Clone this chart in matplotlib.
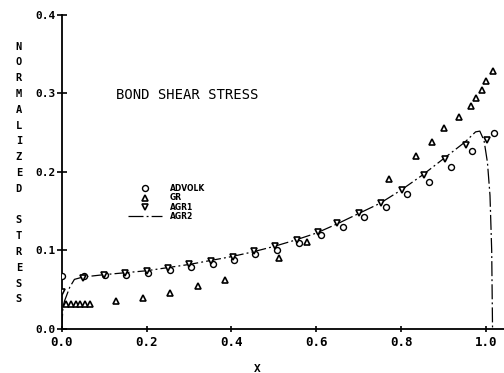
import matplotlib
matplotlib.use("Agg")
import matplotlib.pyplot as plt

# ---- data ----
advolk_x = [0.0, 0.053, 0.103, 0.152, 0.204, 0.255, 0.305, 0.356, 0.405, 0.456, 0.508,
            0.558, 0.610, 0.662, 0.713, 0.763, 0.814, 0.865, 0.916, 0.966, 1.018]
advolk_y = [0.067, 0.067, 0.068, 0.069, 0.0715, 0.075, 0.079, 0.083, 0.088, 0.095, 0.101,
            0.110, 0.120, 0.130, 0.142, 0.155, 0.172, 0.187, 0.206, 0.227, 0.250]

gr_x = [0.011, 0.022, 0.033, 0.044, 0.055, 0.066, 0.127, 0.192, 0.256, 0.321, 0.384,
        0.512, 0.578, 0.770, 0.834, 0.872, 0.900, 0.937, 0.964, 0.976, 0.989, 1.000, 1.015]
gr_y = [0.031, 0.031, 0.031, 0.031, 0.031, 0.031, 0.035, 0.039, 0.046, 0.054, 0.0625,
        0.0905, 0.111, 0.191, 0.220, 0.2375, 0.2555, 0.2695, 0.2845, 0.2945, 0.304, 0.3155, 0.328]

agr1_x = [0.0, 0.05, 0.10, 0.15, 0.20, 0.25, 0.30, 0.352, 0.403, 0.453, 0.503, 0.555,
          0.603, 0.648, 0.701, 0.752, 0.802, 0.853, 0.903, 0.952, 1.003]
agr1_y = [0.047, 0.065, 0.069, 0.0715, 0.074, 0.078, 0.082, 0.086, 0.0915, 0.099, 0.1055,
          0.1137, 0.124, 0.135, 0.147, 0.160, 0.1766, 0.196, 0.217, 0.234, 0.2405]

agr2_x = [0.0, 0.003, 0.007, 0.019, 0.030, 0.05, 0.10, 0.15, 0.20, 0.25, 0.30, 0.35,
          0.40, 0.45, 0.50, 0.55, 0.60, 0.65, 0.70, 0.75, 0.80, 0.85, 0.90, 0.95,
          0.975, 0.985, 0.995, 1.003, 1.009, 1.013, 1.015]
agr2_y = [0.0, 0.028, 0.036, 0.053, 0.063, 0.066, 0.069, 0.0715, 0.074, 0.078, 0.082, 0.087,
          0.092, 0.098, 0.105, 0.113, 0.122, 0.134, 0.147, 0.160, 0.177, 0.196, 0.217, 0.238,
          0.251, 0.252, 0.240, 0.212, 0.170, 0.100, 0.0]

x_ticks = [0.0, 0.2, 0.4, 0.6, 0.8, 1.0]
x_ticklabels = ["0.0", "0.2", "0.4", "0.6", "0.8", "1.0"]
y_ticks = [0.0, 0.1, 0.2, 0.3, 0.4]
y_ticklabels = ["0.0", "0.1", "0.2", "0.3", "0.4"]

title_text = "BOND SHEAR STRESS"
x_label = "X"
y_label = "NORMALIZED STRESS"

mono = "DejaVu Sans Mono"

fig = plt.figure(figsize=(5.04, 3.73), dpi=100)
ax = fig.add_axes([0.1224, 0.1185, 0.8776, 0.8413])

ms = 4.3
ax.plot(advolk_x, advolk_y, linestyle="none", marker="o", ms=ms, mfc="white",
        mec="black", mew=1.0, label="ADVOLK", zorder=3)
ax.plot(gr_x, gr_y, linestyle="none", marker="^", ms=ms, mfc="white",
        mec="black", mew=1.2, label="GR", zorder=3)
ax.plot(agr1_x, agr1_y, linestyle="none", marker="v", ms=ms, mfc="white",
        mec="black", mew=1.2, label="AGR1", zorder=3)
ax.plot(agr2_x, agr2_y, color="black", lw=0.9, linestyle=(0, (12, 2.5, 1.5, 2.5)),
        label="AGR2", zorder=2)

ax.set_xlim(0, 1.042)
ax.set_ylim(0, 0.4)

for s in ["top", "right"]:
    ax.spines[s].set_visible(False)
ax.spines["left"].set_linewidth(1.3)
ax.spines["bottom"].set_linewidth(1.3)

ax.set_xticks(x_ticks)
ax.set_xticklabels(x_ticklabels, fontfamily=mono, fontweight="bold", fontsize=9)
ax.set_yticks(y_ticks)
ax.set_yticklabels(y_ticklabels, fontfamily=mono, fontweight="bold", fontsize=8)
ax.tick_params(axis="y", direction="inout", length=7.2, width=1.2, pad=1)
ax.tick_params(axis="x", direction="inout", length=4.3, width=1.2, pad=3)

ax.set_xlabel(x_label, fontfamily=mono, fontweight="bold", fontsize=8)
ax.xaxis.label.set_va("center")
ax.xaxis.set_label_coords(0.4422, -0.129)

ax.set_ylabel("\n".join(list(y_label)), fontfamily=mono, fontweight="bold",
              fontsize=7.5, rotation=0, linespacing=1.725)
ax.yaxis.label.set_va("center")
ax.yaxis.label.set_ha("center")
ax.yaxis.set_label_coords(-0.097, 0.4967)

ax.text(0.2833, 0.745, title_text, transform=ax.transAxes, ha="center", va="center",
        fontfamily=mono, fontweight="normal", fontsize=10)

leg = ax.legend(loc="upper left", bbox_to_anchor=(0.254, 0.5072),
                bbox_transform=fig.transFigure, frameon=False, borderpad=0,
                borderaxespad=0, handlelength=4.45, handletextpad=1.05,
                labelspacing=0.05, prop={"family": "DejaVu Sans", "weight": "bold", "size": 5.5})

fig.savefig("out.png", dpi=100)
